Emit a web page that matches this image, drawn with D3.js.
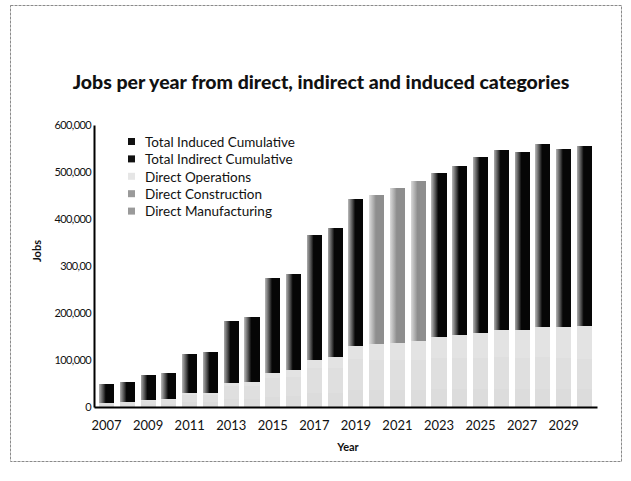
<!DOCTYPE html>
<html>
<head>
<meta charset="utf-8">
<script src="https://cdn.jsdelivr.net/npm/d3@7"></script>
<style>
  body { margin: 0; background: #fff; }
  svg { display: block; font-family: Lato, "Open Sans", sans-serif; }
</style>
</head>
<body>
<div id="chart"></div>
<script>
// years on the x axis
const years = d3.range(2007, 2031);
const tickYears = [2007, 2009, 2011, 2013, 2015, 2017, 2019, 2021, 2023, 2025, 2027, 2029];

// y axis ticks (labels as printed, incl. the "300,00" typo)
const yTickValues = [0, 100000, 200000, 300000, 400000, 500000, 600000];
const yTickLabels = ['0', '100,000', '200,000', '300,00', '400,000', '500,000', '600,000'];

// series values, thousands of jobs
const directManufacturing = [4, 5, 6, 6, 10, 10, 16, 16, 22, 23, 29, 30, 36, 36, 36, 37, 38, 38, 38, 39, 38, 39, 38, 38];
const directConstruction  = [4, 5, 7, 8, 16, 15, 28, 29, 39, 41, 53, 54, 66, 65, 64, 64, 67, 66, 66, 68, 66, 67, 66, 64];
const directOperations    = [1, 1, 2, 2, 4, 5, 7, 9, 12, 15, 19, 23, 28, 32, 36, 40, 45, 49, 53, 57, 60, 64, 67, 70];
const indirectCumulative  = [24, 25, 31, 33, 48, 51, 76, 80, 117, 119, 154, 158, 181, 184, 190, 197, 201, 209, 217, 222, 220, 226, 220, 223];
const inducedCumulative   = [17, 18, 22, 24, 34, 37, 55, 58, 84, 86, 111, 115, 132, 134, 139, 143, 146, 151, 157, 161, 159, 164, 159, 161];

// bars that came out lighter grey in the printed version
const shadedYears = [2020, 2021, 2022];

const seriesKeys = ['manufacturing', 'construction', 'operations', 'indirect', 'induced'];
const seriesNames = {
    induced: 'Total Induced Cumulative',
    indirect: 'Total Indirect Cumulative',
    operations: 'Direct Operations',
    construction: 'Direct Construction',
    manufacturing: 'Direct Manufacturing'
};
const seriesColors = {
    manufacturing: '#dcdcdc',
    construction: '#dfdfdf',
    operations: '#e3e3e3',
    indirect: '#080808',
    induced: '#080808'
};
const legendColors = {
    induced: '#111',
    indirect: '#111',
    operations: '#e6e6e6',
    construction: '#9a9a9a',
    manufacturing: '#9a9a9a'
};
const legendOrder = ['induced', 'indirect', 'operations', 'construction', 'manufacturing'];

const data = years.map((y, i) => ({
    year: y,
    manufacturing: directManufacturing[i] * 1000,
    construction: directConstruction[i] * 1000,
    operations: directOperations[i] * 1000,
    indirect: indirectCumulative[i] * 1000,
    induced: inducedCumulative[i] * 1000
}));

const width = 631, height = 481;
const margin = { top: 125, right: 34, bottom: 74, left: 94 };

const svg = d3.select('#chart').append('svg')
    .attr('width', width)
    .attr('height', height);

// outer frame
svg.append('rect')
    .attr('x', 10.5).attr('y', 5.5)
    .attr('width', 611).attr('height', 456)
    .attr('fill', 'none')
    .attr('stroke', '#8a8a8a')
    .attr('stroke-width', 1)
    .attr('stroke-dasharray', '3,1');

// gradient that mimics the grainy left edge of the dark bars
const defs = svg.append('defs');
function addGrad(id, base) {
    const g = defs.append('linearGradient').attr('id', id)
        .attr('x1', '0%').attr('x2', '100%').attr('y1', '0%').attr('y2', '0%');
    g.append('stop').attr('offset', '0%').attr('stop-color', d3.interpolateRgb(base, '#fff')(0.7));
    g.append('stop').attr('offset', '30%').attr('stop-color', d3.interpolateRgb(base, '#fff')(0.25));
    g.append('stop').attr('offset', '45%').attr('stop-color', base);
    g.append('stop').attr('offset', '100%').attr('stop-color', base);
}
addGrad('g-dark', '#060606');
addGrad('g-shade', '#8e8e8e');

const x = d3.scaleBand()
    .domain(years)
    .range([margin.left, width - margin.right])
    .paddingInner(0.27)
    .paddingOuter(0.24);

const y = d3.scaleLinear()
    .domain([0, 600000])
    .range([height - margin.bottom, margin.top]);

const stack = d3.stack().keys(seriesKeys);
const stacked = stack(data);

const chart = svg.append('g').attr('shape-rendering', 'crispEdges');

chart.selectAll('.layer')
    .data(stacked)
    .join('g')
    .attr('class', 'layer')
    .selectAll('rect')
    .data(d => d.map(v => Object.assign(v, { key: d.key })))
    .join('rect')
    .attr('x', d => x(d.data.year))
    .attr('width', x.bandwidth())
    .attr('y', d => y(d[1]))
    .attr('height', d => y(d[0]) - y(d[1]))
    .attr('fill', d => {
        if (d.key === 'indirect' || d.key === 'induced') {
            return shadedYears.includes(d.data.year) ? 'url(#g-shade)' : 'url(#g-dark)';
        }
        return seriesColors[d.key];
    });

// axes
const yAxis = d3.axisLeft(y)
    .tickValues(yTickValues)
    .tickFormat((d, i) => yTickLabels[i])
    .tickSize(0)
    .tickPadding(3);

const yAxisG = svg.append('g')
    .attr('transform', `translate(${margin.left},0)`)
    .call(yAxis);
yAxisG.select('.domain').attr('stroke', '#000').attr('stroke-width', 2);
yAxisG.selectAll('text')
    .attr('font-size', 11)
    .attr('letter-spacing', '-0.6px')
    .attr('font-family', 'Lato, sans-serif')
    .attr('fill', '#111');

const xAxis = d3.axisBottom(x)
    .tickValues(tickYears)
    .tickSize(0)
    .tickPadding(14);

const xAxisG = svg.append('g')
    .attr('transform', `translate(0,${height - margin.bottom})`)
    .call(xAxis);
xAxisG.select('.domain').attr('stroke', '#000').attr('stroke-width', 2);
xAxisG.selectAll('text')
    .attr('font-size', 13)
    .attr('font-family', 'Lato, sans-serif')
    .attr('fill', '#111');

// titles
svg.append('text')
    .attr('x', 321).attr('y', 89)
    .attr('text-anchor', 'middle')
    .attr('font-size', 19.5)
    .attr('font-weight', 900)
    .attr('fill', '#111')
    .text('Jobs per year from direct, indirect and induced categories');

svg.append('text')
    .attr('transform', 'translate(41,251) rotate(-90)')
    .attr('text-anchor', 'middle')
    .attr('font-size', 11)
    .attr('font-weight', 'bold')
    .attr('fill', '#111')
    .text('Jobs');

svg.append('text')
    .attr('x', 348).attr('y', 451)
    .attr('text-anchor', 'middle')
    .attr('font-size', 11)
    .attr('font-weight', 'bold')
    .attr('fill', '#111')
    .text('Year');

// legend
const legend = svg.append('g').attr('transform', 'translate(128,142)');
const items = legend.selectAll('g')
    .data(legendOrder)
    .join('g')
    .attr('transform', (d, i) => `translate(0,${i * 17.4})`);
items.append('rect')
    .attr('x', 0).attr('y', -4)
    .attr('width', 7).attr('height', 7)
    .attr('fill', d => legendColors[d]);
items.append('text')
    .attr('x', 17).attr('y', 0)
    .attr('dy', '0.35em')
    .attr('font-size', 13.5)
    .attr('fill', '#111')
    .text(d => seriesNames[d]);
</script>
</body>
</html>
